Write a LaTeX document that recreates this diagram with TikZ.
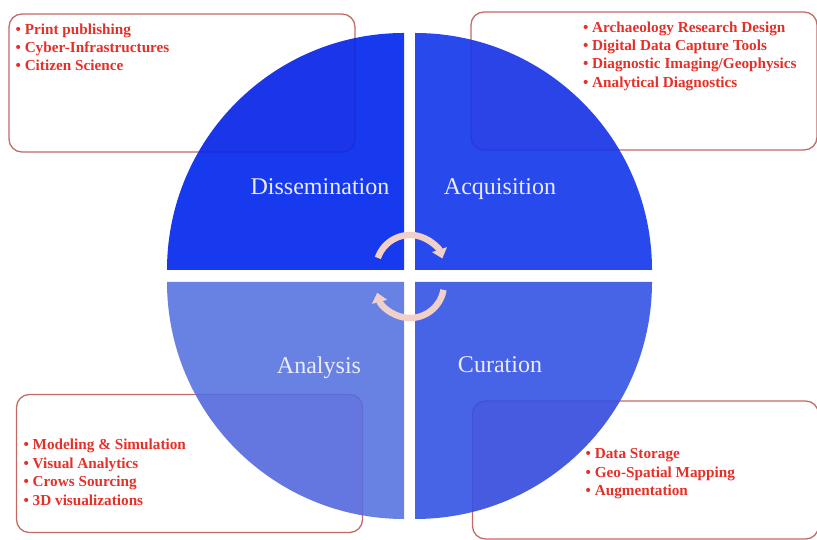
\documentclass[tikz,border=0pt]{standalone}
\usepackage{fontspec}
\setmainfont{Liberation Serif}
\usetikzlibrary{positioning,arrows.meta}

\definecolor{dissblue}{RGB}{5,43,237}
\definecolor{acqblue}{RGB}{24,60,235}
\definecolor{curblue}{RGB}{58,88,228}
\definecolor{anablue}{RGB}{93,121,226}
\definecolor{itemred}{RGB}{228,48,40}
\definecolor{boxline}{RGB}{195,105,100}
\definecolor{cyclepink}{RGB}{242,208,202}
\definecolor{overlap}{RGB}{70,20,190}

\begin{document}
\begin{tikzpicture}[
    x=0.03cm, y=0.03cm,
    phase/.style={font=\fontsize{20.5}{24}\selectfont, text=white!92!blue,
                  anchor=base, inner sep=0pt},
    infobox/.style={draw=boxline, line width=1.1pt, rounded corners=11pt,
                    minimum width=10.38cm, minimum height=4.14cm, inner sep=0pt},
    items/.style={font=\fontsize{13}{15.7}\selectfont\bfseries, text=itemred,
                  align=left, inner sep=0pt},
    cyc/.style={draw=cyclepink, line width=5.5pt, -{Triangle[width=13pt,length=8pt]}},
  ]
    \useasboundingbox (0,0) rectangle (817,540);

    % Boxes for the activities of each phase (under the quarters)
    \node[infobox] (dissbox) at (182,457)     {};
    \node[infobox] (acqbox)  at (644,459)     {};
    \node[infobox] (anabox)  at (189.5,76.5)  {};
    \node[infobox] (curbox)  at (645.5,70)    {};

    % Four quarter discs round a thin cross-shaped gap
    \foreach \cx/\cy/\ang/\col in {404/270/180/dissblue, 415/270/90/acqblue,
                                   415/258/0/curblue, 404/258/270/anablue}
      \fill[\col, fill opacity=.93] (\cx,\cy) -- ++(\ang:237)
          arc[start angle=\ang, end angle=\ang-90, radius=237] -- cycle;

    % Darker where a box lies on its quarter
    \foreach \cx/\cy/\ang/\bx in {404/270/180/dissbox, 415/270/90/acqbox,
                                  415/258/0/curbox, 404/258/270/anabox} {
      \begin{scope}
        \clip (\cx,\cy) -- ++(\ang:237)
            arc[start angle=\ang, end angle=\ang-90, radius=237] -- cycle;
        \fill[overlap, opacity=.1, rounded corners=11pt]
            (\bx.south west) rectangle (\bx.north east);
      \end{scope}
    }

    % Phase names
    \node[phase] (dissemination) at (320,345) {Dissemination};
    \node[phase] (acquisition)   at (500,345) {Acquisition};
    \node[phase] (analysis)      at (319,166) {Analysis};
    \node[phase] (curation)      at (500,167) {Curation};

    % Cycle arrows in the middle
    \draw[cyc] (410,271) ++(161:34) arc (161:18:34);
    \draw[cyc] (410,256) ++(-10:34) arc (-10:-165:34);

    % Activity lists
    \node[items, below right=8.5pt and 6pt of dissbox.north west] (disslist)
        {• Print publishing\\• Cyber-Infrastructures\\• Citizen Science};
    \node[items, below right=8.5pt and 96pt of acqbox.north west] (acqlist)
        {• Archaeology Research Design\\• Digital Data Capture Tools\\
         • Diagnostic Imaging/Geophysics\\• Analytical Diagnostics};
    \node[items, below right=38.7pt and 6.4pt of anabox.north west] (analist)
        {• Modeling \& Simulation\\• Visual Analytics\\• Crows Sourcing\\• 3D visualizations};
    \node[items, below right=41pt and 97pt of curbox.north west] (curlist)
        {• Data Storage\\• Geo-Spatial Mapping\\• Augmentation};
\end{tikzpicture}
\end{document}
